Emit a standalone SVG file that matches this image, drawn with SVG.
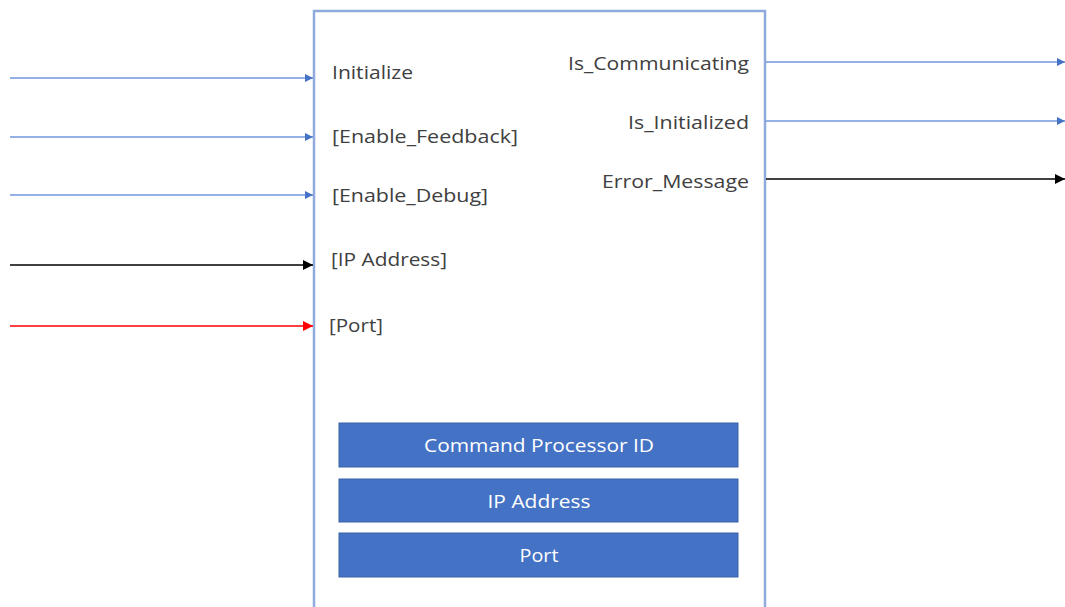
<svg xmlns="http://www.w3.org/2000/svg" width="1065" height="607" viewBox="0 0 1065 607">
<defs>
<marker id="aBlue" markerWidth="8" markerHeight="8" refX="8" refY="4" orient="auto" markerUnits="userSpaceOnUse"><path d="M0,0 L8,4 L0,8 Z" fill="#4472C4"/></marker>
<marker id="aBlack" markerWidth="10" markerHeight="10" refX="10" refY="5" orient="auto" markerUnits="userSpaceOnUse"><path d="M0,0 L10,5 L0,10 Z" fill="#000"/></marker>
<marker id="aRed" markerWidth="10" markerHeight="10" refX="10" refY="5" orient="auto" markerUnits="userSpaceOnUse"><path d="M0,0 L10,5 L0,10 Z" fill="#FF0000"/></marker>
</defs>
<style>
.lbl{font-family:"Open Sans","Liberation Sans",sans-serif;font-size:18px;fill:#404040}
.inner{font-family:"Open Sans","Liberation Sans",sans-serif;font-size:18px;fill:#FFFFFF}
.blue{stroke:#6F97DD;stroke-width:1.5;fill:none}
.black{stroke:#000;stroke-width:1.5;fill:none}
.red{stroke:#FF0000;stroke-width:1.5;fill:none}
.box{fill:#4472C4;stroke:#3A62A8;stroke-width:1}
</style>
<rect width="1065" height="607" fill="#FFFFFF"/>
<g id="block">
<path d="M314,610 L314,11 L765,11 L765,610" fill="none" stroke="#8FAADC" stroke-width="2.5"/>
<text class="lbl" x="332" y="79" textLength="81" lengthAdjust="spacingAndGlyphs">Initialize</text>
<text class="lbl" x="332" y="143" textLength="186" lengthAdjust="spacingAndGlyphs">[Enable_Feedback]</text>
<text class="lbl" x="332" y="202" textLength="156" lengthAdjust="spacingAndGlyphs">[Enable_Debug]</text>
<text class="lbl" x="331" y="266" textLength="116" lengthAdjust="spacingAndGlyphs">[IP Address]</text>
<text class="lbl" x="329" y="332" textLength="54" lengthAdjust="spacingAndGlyphs">[Port]</text>
<text class="lbl" x="749" y="70" text-anchor="end" textLength="181" lengthAdjust="spacingAndGlyphs">Is_Communicating</text>
<text class="lbl" x="749" y="129" text-anchor="end" textLength="121" lengthAdjust="spacingAndGlyphs">Is_Initialized</text>
<text class="lbl" x="749" y="188" text-anchor="end" textLength="147" lengthAdjust="spacingAndGlyphs">Error_Message</text>
</g>
<g id="cmd-id">
<rect class="box" x="339" y="423" width="399" height="44"/>
<text class="inner" x="539" y="452" text-anchor="middle" textLength="230" lengthAdjust="spacingAndGlyphs">Command Processor ID</text>
</g>
<g id="ip-address">
<rect class="box" x="339" y="479" width="399" height="43"/>
<text class="inner" x="539" y="508" text-anchor="middle" textLength="103" lengthAdjust="spacingAndGlyphs">IP Address</text>
</g>
<g id="port">
<rect class="box" x="339" y="533" width="399" height="44"/>
<text class="inner" x="539" y="562" text-anchor="middle" textLength="39" lengthAdjust="spacingAndGlyphs">Port</text>
</g>
<g id="connectors">
<line class="blue" x1="10" y1="78" x2="313" y2="78" marker-end="url(#aBlue)"/>
<line class="blue" x1="10" y1="137" x2="313" y2="137" marker-end="url(#aBlue)"/>
<line class="blue" x1="10" y1="195" x2="313" y2="195" marker-end="url(#aBlue)"/>
<line class="black" x1="10" y1="265" x2="313" y2="265" marker-end="url(#aBlack)"/>
<line class="red" x1="10" y1="326" x2="313" y2="326" marker-end="url(#aRed)"/>
<line class="blue" x1="766" y1="62" x2="1065" y2="62" marker-end="url(#aBlue)"/>
<line class="blue" x1="766" y1="121" x2="1065" y2="121" marker-end="url(#aBlue)"/>
<line class="black" x1="766" y1="179" x2="1065" y2="179" marker-end="url(#aBlack)"/>
</g>
</svg>
